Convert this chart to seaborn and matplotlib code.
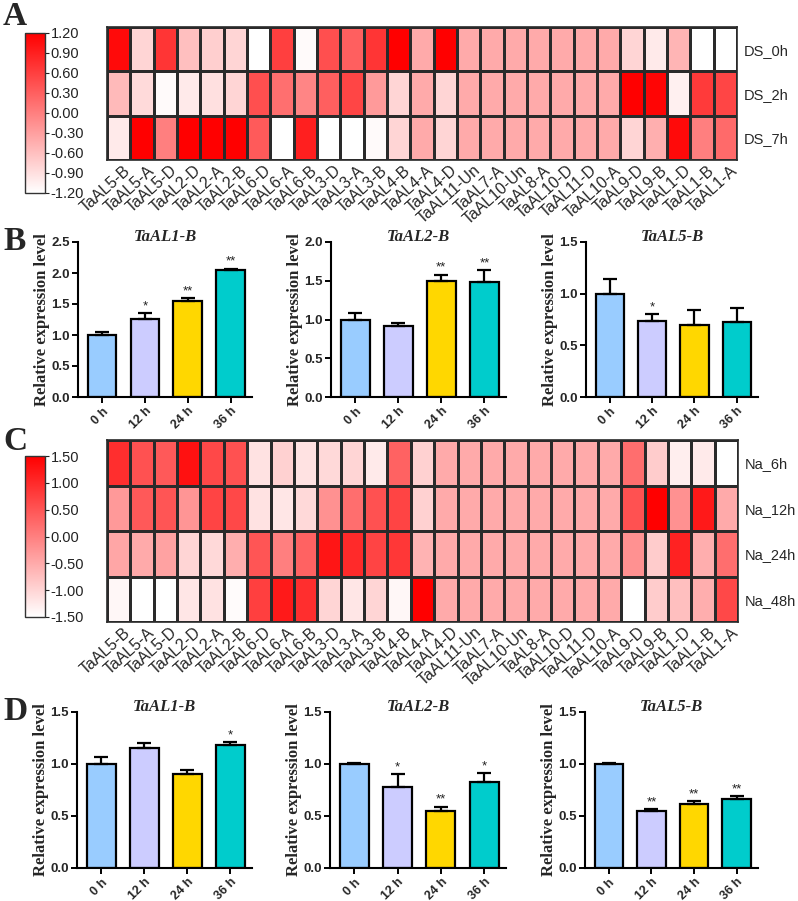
import numpy as np
import pandas as pd
import matplotlib
matplotlib.use("Agg")
import matplotlib.pyplot as plt
import seaborn as sns
from matplotlib.colors import LinearSegmentedColormap

# ---------------- data ----------------
genes = ["TaAL5-B", "TaAL5-A", "TaAL5-D", "TaAL2-D", "TaAL2-A", "TaAL2-B",
         "TaAL6-D", "TaAL6-A", "TaAL6-B", "TaAL3-D", "TaAL3-A", "TaAL3-B",
         "TaAL4-B", "TaAL4-A", "TaAL4-D", "TaAL11-Un", "TaAL7-A", "TaAL10-Un",
         "TaAL8-A", "TaAL10-D", "TaAL11-D", "TaAL10-A", "TaAL9-D", "TaAL9-B",
         "TaAL1-D", "TaAL1-B", "TaAL1-A"]

ds_rows = ["DS_0h", "DS_2h", "DS_7h"]
ds_0h = [1.10, -0.80, 0.70, -0.60, -0.75, -0.80, -1.20, 0.60, -1.15, 0.45, 0.30, 0.70,
         1.20, -0.40, 1.20, -0.40, -0.40, -0.40, -0.40, -0.40, -0.40, -0.40, -0.80, -1.00,
         -0.50, -1.20, -1.20]
ds_2h = [-0.55, -0.85, -1.15, -1.00, -0.90, -0.80, 0.45, 0.15, -0.05, 0.30, 0.55, -0.25,
         -0.80, -0.40, -0.80, -0.40, -0.40, -0.40, -0.40, -0.40, -0.40, -0.40, 1.20, 1.15,
         -1.05, 0.65, 0.55]
ds_7h = [-1.00, 1.20, 0.00, 1.20, 1.20, 1.20, 0.35, -1.20, 0.90, -1.20, -1.20, -1.15,
         -0.80, -0.40, -0.80, -0.40, -0.40, -0.40, -0.40, -0.40, -0.40, -0.40, -0.80, -0.45,
         1.10, 0.00, 0.20]

na_rows = ["Na_6h", "Na_12h", "Na_24h", "Na_48h"]
na_6h = [0.95, 0.55, 0.45, 1.30, 0.65, 0.55, -1.15, -0.95, -1.15, -1.05, -1.00, -1.25,
         0.35, -0.95, -0.50, -0.50, -0.50, -0.50, -0.50, -0.50, -0.50, -0.50, 0.20, -0.90,
         -1.30, -1.25, -1.50]
na_12h = [-0.30, 0.45, 0.50, -0.25, 0.70, 0.65, -1.15, -1.20, -1.05, -0.20, 0.20, 0.55,
          0.70, -0.95, -0.50, -0.50, -0.50, -0.50, -0.50, -0.50, -0.50, -0.50, 0.55, 1.50,
          -0.20, 1.20, -0.50]
na_24h = [-0.45, -0.50, -0.40, -1.00, -1.05, -0.55, 0.50, 0.00, 0.35, 1.25, 1.00, 0.70,
          0.85, -0.60, -0.50, -0.50, -0.50, -0.50, -0.50, -0.50, -0.50, -0.50, -0.20, -0.90,
          1.10, -0.55, 0.20]
na_48h = [-1.40, -1.50, -1.50, -1.20, -1.15, -1.45, 0.75, 1.20, 0.95, -1.00, -1.20, -1.00,
          -1.40, 1.50, -0.50, -0.50, -0.50, -0.50, -0.50, -0.50, -0.50, -0.50, -1.50, -0.90,
          -0.75, -0.55, 0.65]

times = ["0 h", "12 h", "24 h", "36 h"]
bar_colors = ["#99CCFF", "#CCCCFF", "#FFD700", "#00CCCC"]

b_al1_mean = [1.00, 1.26, 1.55, 2.05]
b_al1_err = [0.05, 0.09, 0.04, 0.02]
b_al1_sig = ["", "*", "**", "**"]
b_al2_mean = [1.00, 0.92, 1.50, 1.49]
b_al2_err = [0.08, 0.04, 0.08, 0.15]
b_al2_sig = ["", "", "**", "**"]
b_al5_mean = [1.00, 0.74, 0.70, 0.73]
b_al5_err = [0.14, 0.06, 0.14, 0.13]
b_al5_sig = ["", "*", "", ""]

d_al1_mean = [1.00, 1.15, 0.90, 1.18]
d_al1_err = [0.07, 0.05, 0.04, 0.03]
d_al1_sig = ["", "", "", "*"]
d_al2_mean = [1.00, 0.78, 0.55, 0.83]
d_al2_err = [0.005, 0.12, 0.04, 0.08]
d_al2_sig = ["", "*", "**", "*"]
d_al5_mean = [1.00, 0.55, 0.62, 0.66]
d_al5_err = [0.01, 0.02, 0.02, 0.03]
d_al5_sig = ["", "**", "**", "**"]

# ---------------- style ----------------
sns.set_style("white")
plt.rcParams["font.family"] = ["Liberation Sans", "DejaVu Sans"]
SERIF = ["Liberation Serif", "DejaVu Serif"]

W, H = 798, 901
fig = plt.figure(figsize=(W / 100, H / 100), dpi=100)


def axpx(l, t, r, b):
    return fig.add_axes([l / W, 1 - b / H, (r - l) / W, (b - t) / H])


cmap = LinearSegmentedColormap.from_list("wr", ["#FFFFFF", "#FF0000"])


def heat(l, t, r, b, cl, ct, cr, cb, rows, data, vmax, ticks):
    ax = axpx(l, t, r, b)
    cax = axpx(cl, ct, cr, cb)
    df = pd.DataFrame(data, index=rows, columns=genes)
    sns.heatmap(df, ax=ax, cmap=cmap, vmin=-vmax, vmax=vmax, linewidths=1.0,
                linecolor="#2a2a2a", cbar_ax=cax,
                cbar_kws={"ticks": ticks, "format": "%.2f"})
    ax.yaxis.tick_right()
    ax.set_yticks(np.arange(len(rows)) + 0.5)
    ax.set_yticklabels(rows, rotation=0, fontsize=10.5)
    ax.set_xticks(np.arange(len(genes)) + 0.7)
    ax.set_xticklabels(genes, rotation=42, ha="right", va="top",
                       rotation_mode="anchor", fontsize=11.5)
    ax.tick_params(axis="y", length=0, pad=5)
    ax.tick_params(axis="x", length=0, pad=2)
    ax.set_xlabel("")
    ax.set_ylabel("")
    for s in ax.spines.values():
        s.set_visible(True)
        s.set_color("#2a2a2a")
        s.set_linewidth(1.2)
    cb = ax.collections[0].colorbar
    cb.outline.set_visible(True)
    cb.outline.set_edgecolor("#333333")
    cb.outline.set_linewidth(1.0)
    cax.tick_params(labelsize=10.5, length=3, width=0.8, pad=1, colors="#222222")


heat(107, 27, 737, 160, 25, 33, 45, 193, ds_rows, [ds_0h, ds_2h, ds_7h], 1.2,
     [-1.2, -0.9, -0.6, -0.3, 0.0, 0.3, 0.6, 0.9, 1.2])
heat(107, 440, 738, 622, 25, 456, 45, 617, na_rows, [na_6h, na_12h, na_24h, na_48h], 1.5,
     [-1.5, -1.0, -0.5, 0.0, 0.5, 1.0, 1.5])


def bar_panel(l, t, r, b, title, means, errs, sigs, ymax):
    ax = axpx(l, t, r, b)
    df = pd.DataFrame({"time": times, "value": means})
    sns.barplot(data=df, x="time", y="value", hue="time", palette=bar_colors,
                legend=False, ax=ax, width=0.67, edgecolor="black",
                linewidth=1.6, errorbar=None, saturation=1)
    ax.errorbar(range(4), means, yerr=[np.zeros(4), errs], fmt="none",
                ecolor="black", elinewidth=1.6, capsize=5, capthick=1.6, zorder=3)
    for i, (m, e, s) in enumerate(zip(means, errs, sigs)):
        if s:
            ax.text(i, m + e + ymax * 0.005, s, ha="center", va="bottom",
                    fontsize=9.5, color="#222222")
    ax.set_xlim(-0.56, 3.5)
    ax.set_ylim(0, ymax)
    yt = np.arange(0, ymax + 0.01, 0.5)
    ax.set_yticks(yt)
    ax.set_yticklabels([f"{v:.1f}" for v in yt], fontweight="bold", fontsize=9.5)
    ax.set_xticks(range(4))
    ax.set_xticklabels(times, rotation=45, ha="right", rotation_mode="anchor",
                       fontweight="bold", fontsize=9)
    ax.tick_params(axis="both", direction="out", length=4, width=1.4,
                   color="black", pad=2, left=True, bottom=True)
    ax.set_xlabel("")
    ax.set_ylabel("Relative expression level", fontweight="bold", family=SERIF,
                  fontsize=12, labelpad=1)
    ax.set_title(title, fontstyle="italic", fontweight="bold", family=SERIF,
                 fontsize=12, pad=1)
    sns.despine(ax=ax)
    for s in ("left", "bottom"):
        ax.spines[s].set_linewidth(1.5)
        ax.spines[s].set_color("black")
    return ax


bar_panel(78, 242, 252, 397, "TaAL1-B", b_al1_mean, b_al1_err, b_al1_sig, 2.5)
bar_panel(331, 242, 506, 397, "TaAL2-B", b_al2_mean, b_al2_err, b_al2_sig, 2.0)
bar_panel(586, 242, 758, 397, "TaAL5-B", b_al5_mean, b_al5_err, b_al5_sig, 1.5)

bar_panel(77, 712, 252, 868, "TaAL1-B", d_al1_mean, d_al1_err, d_al1_sig, 1.5)
bar_panel(330, 712, 506, 868, "TaAL2-B", d_al2_mean, d_al2_err, d_al2_sig, 1.5)
bar_panel(585, 712, 758, 868, "TaAL5-B", d_al5_mean, d_al5_err, d_al5_sig, 1.5)

for letter, ybase in (("A", 25), ("B", 250), ("C", 450), ("D", 720)):
    fig.text(3 / W, 1 - ybase / H, letter, family=SERIF, fontweight="bold",
             fontsize=24, va="baseline", ha="left")

fig.savefig("out.png", dpi=100)
